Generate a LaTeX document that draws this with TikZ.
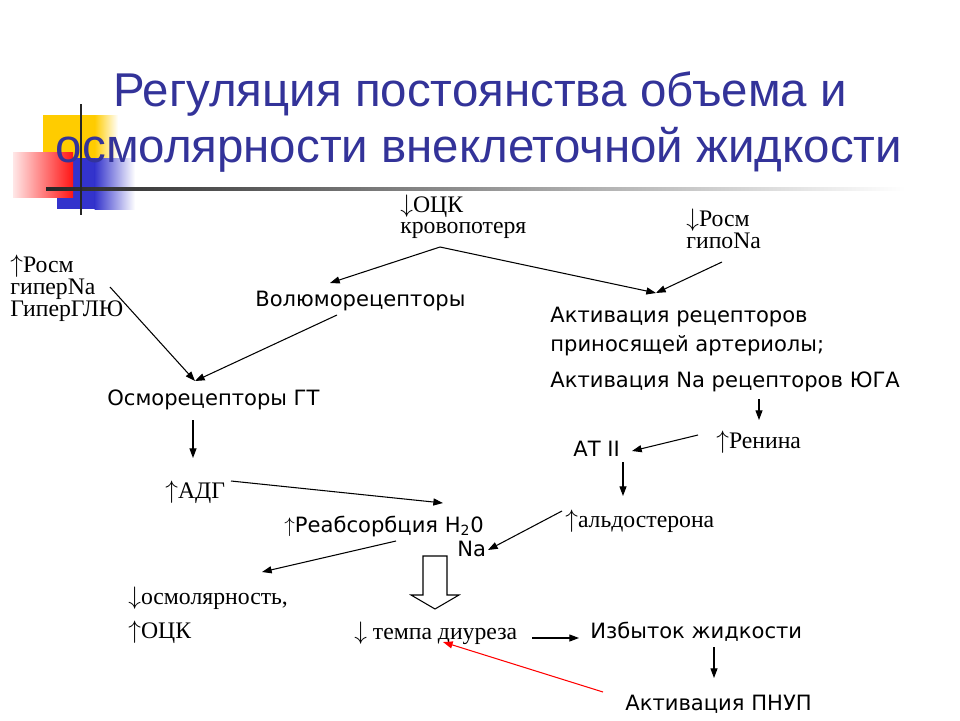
\documentclass[tikz,border=0pt]{standalone}
\usepackage{fontspec}
\setmainfont{Liberation Serif}
\newfontfamily\tahoma{DejaVu Sans}
\newfontfamily\arial{Liberation Sans}
\usetikzlibrary{arrows.meta}
\definecolor{titleblue}{RGB}{51,51,153}
\definecolor{decoyellow}{RGB}{255,204,0}
\definecolor{decored}{RGB}{255,20,20}
\definecolor{decoblue}{RGB}{51,51,204}
\begin{document}
\begin{tikzpicture}[x=0.02cm, y=-0.02cm, >={Triangle[length=5.5pt,width=4pt]},
    sans/.style={font=\tahoma\fontsize{12}{14}\selectfont, inner sep=0pt, anchor=base west},
    serif/.style={font=\fontsize{13.5}{16}\selectfont, inner sep=0pt, anchor=base west},
    link/.style={->, line width=0.6pt}]
\useasboundingbox[fill=white] (0,0) rectangle (960,720);
% decoration of the slide
\fill[decoyellow] (43,115) rectangle (95,182);
\shade[left color=decoyellow, right color=white] (94.5,115) rectangle (118,182);
\fill[decoblue] (57,158) rectangle (95,209);
\shade[left color=decoblue, right color=white] (94.5,158) rectangle (135,209);
\shade[left color=decored!10, right color=decored] (13,152) rectangle (73,197);
\shade[left color=black!85, right color=white] (46,187.5) rectangle (905,190.5);
\draw[line width=1.7pt, black!85] (81,104)--(81,215);
% title
\node[font=\arial\fontsize{27}{32}\selectfont, text=titleblue, inner sep=0pt, anchor=base] (title1) at (480,106) {Регуляция постоянства объема и};
\node[font=\arial\fontsize{27}{32}\selectfont, text=titleblue, inner sep=0pt, anchor=base] (title2) at (479,162) {осмолярности внеклеточной жидкости};

\node[serif] (ocz) at (400,212) {$\downarrow$ОЦК};
\node[serif] (blood) at (400,233) {кровопотеря};
\node[serif] (posm) at (686,226) {$\downarrow$Росм};
\node[serif] (hypo) at (686,248) {гипоNa};
\node[serif] (posmup) at (10,272) {$\uparrow$Росм};
\node[serif] (hyper) at (10,294) {гиперNa};
\node[serif] (glu) at (10,316) {ГиперГЛЮ};
\node[sans] (volumo) at (255,306) {Волюморецепторы};
\node[sans] (aff1) at (550,322) {Активация рецепторов};
\node[sans] (aff2) at (550,351) {приносящей артериолы;};
\node[sans] (yuga) at (550,387) {Активация Na рецепторов ЮГА};
\node[sans] (osmo) at (107,405) {Осморецепторы ГТ};
\node[sans] (at) at (573,456) {АТ II};
\node[serif] (renin) at (716,448) {$\uparrow$Ренина};
\node[serif] (adh) at (165,498) {$\uparrow$АДГ};
\node[sans] (reabs) at (284,532) {$\uparrow$Реабсорбция H\textsubscript{2}0};
\node[sans] (na) at (457,556) {Na};
\node[serif] (aldo) at (565,527) {$\uparrow$альдостерона};
\node[serif] (osmol) at (128,604) {$\downarrow$осмолярность,};
\node[serif] (oczup) at (128,638) {$\uparrow$ОЦК};
\node[serif] (diur) at (354,639) {$\downarrow$ темпа диуреза};
\node[sans] (excess) at (590,638) {Избыток жидкости};
\node[sans] (pnup) at (625,710) {Активация ПНУП};

% ends of the connectors
\coordinate (ocz-out) at (440,247);
\coordinate (volumo-in) at (330,283);
\coordinate (aff-in) at (656,293);
\coordinate (hypo-out) at (722,262);
\coordinate (volumo-out) at (337,315);
\coordinate (glu-out) at (110,287);
\coordinate (osmo-in) at (195,381);
\coordinate (osmo-out) at (193,420);
\coordinate (adh-in) at (193,458);
\coordinate (adh-out) at (231,481);
\coordinate (reabs-in) at (443,503);
\coordinate (yuga-out) at (759,399);
\coordinate (renin-in) at (759,420);
\coordinate (renin-out) at (698,435);
\coordinate (at-in) at (632,451);
\coordinate (at-out) at (623,462);
\coordinate (aldo-in) at (623,496);
\coordinate (aldo-out) at (562,511);
\coordinate (na-in) at (488,550);
\coordinate (reabs-out) at (396,541);
\coordinate (osmol-in) at (262,572);
\coordinate (diur-out) at (532,638);
\coordinate (excess-in) at (579,638);
\coordinate (excess-out) at (714,647);
\coordinate (pnup-in) at (714,678);
\coordinate (pnup-out) at (603,692);
\coordinate (diur-in) at (443,642);

\draw[link] (ocz-out)--(volumo-in);
\draw[link] (ocz-out)--(aff-in);
\draw[link] (hypo-out)--(aff-in);
\draw[link] (volumo-out)--(osmo-in);
\draw[link] (glu-out)--(osmo-in);
\draw[link] (osmo-out)--(adh-in);
\draw[link] (adh-out)--(reabs-in);
\draw[link] (yuga-out)--(renin-in);
\draw[link] (renin-out)--(at-in);
\draw[link] (at-out)--(aldo-in);
\draw[link] (aldo-out)--(na-in);
\draw[link] (reabs-out)--(osmol-in);
\draw[link] (diur-out)--(excess-in);
\draw[link] (excess-out)--(pnup-in);
\draw[link, red] (pnup-out)--(diur-in);
% hollow block arrow
\draw[line width=0.6pt, fill=white] (423,556)--(447,556)--(447,595)--(459,595)--(435,609)--(411,595)--(423,595)--cycle;
\end{tikzpicture}
\end{document}
